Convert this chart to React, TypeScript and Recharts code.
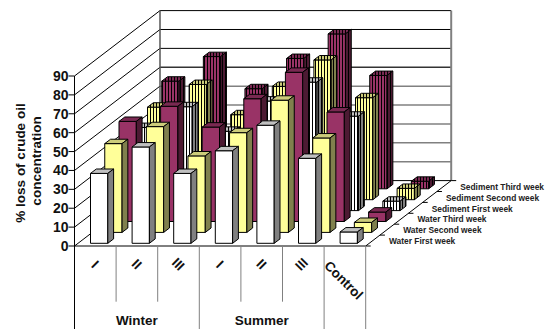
import { BarChart, Bar, XAxis, YAxis, CartesianGrid, Customized } from "recharts";

const categories = ["I", "II", "III", "I", "II", "III", "Control"];
const seasons = ["", "Winter", "", "", "Summer", "", ""];
const yTicks = [0, 10, 20, 30, 40, 50, 60, 70, 80, 90];

// one array per row of bars, front row first
const waterFirst = [37, 51, 37, 49, 62.5, 45, 6];
const waterSecond = [47, 56, 40.5, 52.8, 70, 50, 5.3];
const waterThird = [53, 61, 50, 65, 79, 58, 5];
const sedimentFirst = [44, 55, 42, 58, 68, 50, 5];
const sedimentSecond = [49, 61, 45, 60, 74, 54, 6];
const sedimentThird = [57, 70, 53, 69, 82, 60, 4];

const rowNames = [
  "Water First week",
  "Water Second week",
  "Water Third week",
  "Sediment First week",
  "Sediment Second week",
  "Sediment Third week",
];
const rowValues = [waterFirst, waterSecond, waterThird, sedimentFirst, sedimentSecond, sedimentThird];

const data = categories.map((category, i) => {
  const row: Record<string, string | number> = { key: i, category, season: seasons[i] };
  rowValues.forEach((values, r) => {
    row["r" + r] = values[i];
  });
  return row;
});

const WIDTH = 551;
const HEIGHT = 329;
const LEFT = 74.5;
const RIGHT = 365.7;
const BOTTOM = 246;
const TOP = 76;
const DEPTH_X = 85.5;
const DEPTH_Y = 65.4;
const ROW_X = DEPTH_X / 6;
const ROW_Y = DEPTH_Y / 6;
const BAR_W = 17.3;
const BAR_DX = 5.8;
const BAR_DY = 4.4;
const FONT = "'Liberation Sans', Arial, sans-serif";

const palette = [
  { front: "#ffffff", top: "#c0c0c0", side: "#808080" },
  { front: "#ffff99", top: "#cccc7a", side: "#80804d" },
  { front: "#993366", top: "#7a2952", side: "#4d1a33" },
];

// wall lines: one along the left wall, one along the back wall
const WallLine = (props: any) => {
  const { x1, x2, y1, index } = props;
  const value = 9 - Math.round((y1 - TOP) / ((BOTTOM - TOP) / 9));
  const color = value >= 7 ? "#000" : value === 6 ? "#333" : "#808080";
  const back = y1 - DEPTH_Y;
  return (
    <g key={index}>
      <line x1={x1} y1={y1} x2={x1 + DEPTH_X} y2={back} stroke="#000" strokeWidth={1} />
      {value > 0 && (
        <line
          x1={x1 + DEPTH_X}
          y1={back}
          x2={x2 + DEPTH_X}
          y2={back}
          stroke={color}
          strokeWidth={value >= 7 ? 1 : 1.5}
        />
      )}
    </g>
  );
};

// box with a front, top and side face, pushed back to its row
const makeBox = (row: number) => (props: any) => {
  const { x, y, width, height } = props;
  if (height == null) return null;
  const colors = palette[row % 3];
  const hatched = row >= 3;
  const left = x + 4 + row * ROW_X;
  const up = 2.7 + row * ROW_Y;
  const top = y - up;
  const right = left + width;
  const bottom = y + height - up;
  const frontFill = hatched ? `url(#stripes${row})` : colors.front;
  const topFill = hatched ? `url(#stripes-top${row})` : colors.top;
  const sideFill = hatched ? `url(#stripes-side${row})` : colors.side;
  return (
    <g stroke="#000" strokeWidth={1} strokeLinejoin="round">
      <rect x={left} y={top} width={width} height={bottom - top} fill={frontFill} />
      <path
        d={`M${left} ${top}L${left + BAR_DX} ${top - BAR_DY}L${right + BAR_DX} ${top - BAR_DY}L${right} ${top}Z`}
        fill={topFill}
      />
      <path
        d={`M${right} ${top}L${right + BAR_DX} ${top - BAR_DY}L${right + BAR_DX} ${bottom - BAR_DY}L${right} ${bottom}Z`}
        fill={sideFill}
      />
    </g>
  );
};

const CategoryTick = (props: any) => {
  const { x, y, payload, index } = props;
  const band = (RIGHT - LEFT) / categories.length;
  const edge = x + band / 2;
  const groupEnd = index === 2 || index === 5 || index === 6;
  const reversed = index === 5;
  return (
    <g>
      {index === 0 && <line x1={LEFT} y1={BOTTOM} x2={LEFT} y2={HEIGHT} stroke="#000" />}
      <line x1={edge} y1={BOTTOM} x2={edge} y2={groupEnd ? HEIGHT : 301.7} stroke="#808080" />
      <text
        x={0}
        y={0}
        transform={
          payload.value === "Control"
            ? `translate(${x - 2} ${y + 27}) rotate(45)`
            : `translate(${x - 1} ${y + 11}) rotate(${reversed ? -45 : 45})`
        }
        textAnchor="middle"
        dominantBaseline="middle"
        fontFamily={FONT}
        fontWeight="bold"
        fontSize={13.5}
        fill="#111"
      >
        {payload.value}
      </text>
    </g>
  );
};

const SeasonTick = (props: any) => {
  const { x, y, payload } = props;
  if (!payload.value) return null;
  return (
    <text x={x} y={y + 15} textAnchor="middle" fontFamily={FONT} fontWeight="bold" fontSize={13.5} fill="#111">
      {payload.value}
    </text>
  );
};

const ValueLabel = () => (
  <g fontFamily={FONT} fontWeight="bold" fontSize={13.5} fill="#111" textAnchor="middle">
    <text transform="translate(25 163) rotate(-90)">% loss of crude oil</text>
    <text transform="translate(41 161) rotate(-90)">concentration</text>
  </g>
);

// back corners of the walls and the floor edges
const Frame = () => (
  <g fill="none">
    <line x1={LEFT + DEPTH_X} y1={TOP - DEPTH_Y} x2={LEFT + DEPTH_X} y2={BOTTOM - DEPTH_Y} stroke="#555" strokeWidth={1.5} />
    <line x1={RIGHT + DEPTH_X} y1={TOP - DEPTH_Y} x2={RIGHT + DEPTH_X} y2={BOTTOM - DEPTH_Y} stroke="#808080" strokeWidth={2} />
    <line x1={LEFT + DEPTH_X} y1={BOTTOM - DEPTH_Y} x2={RIGHT + DEPTH_X} y2={BOTTOM - DEPTH_Y} stroke="#000" strokeWidth={1} />
  </g>
);

const DepthAxis = () => (
  <g>
    <line x1={RIGHT} y1={BOTTOM} x2={RIGHT + DEPTH_X} y2={BOTTOM - DEPTH_Y} stroke="#000" />
    {[0, 1, 2, 3, 4, 5, 6].map((k) => (
      <line
        key={k}
        x1={RIGHT + k * ROW_X}
        y1={BOTTOM - k * ROW_Y}
        x2={RIGHT + k * ROW_X + 5}
        y2={BOTTOM - k * ROW_Y}
        stroke="#000"
      />
    ))}
    {rowNames.map((name, k) => (
      <text
        key={name}
        x={389 + k * ROW_X}
        y={244.2 - k * ROW_Y}
        fontFamily={FONT}
        fontWeight="bold"
        fontSize={8.4}
        fill="#222"
      >
        {name}
      </text>
    ))}
  </g>
);

const Stripes = ({ id, bg }: { id: string; bg: string }) => (
  <pattern id={id} width={3} height={3} patternUnits="userSpaceOnUse">
    <rect width={3} height={3} fill={bg} />
    <rect width={1} height={3} fill="#000" />
  </pattern>
);

export default function App() {
  const rows = [5, 4, 3, 2, 1, 0];
  return (
    <div style={{ position: "absolute", left: 0, top: 0, width: WIDTH, height: HEIGHT, background: "#fff" }}>
      <BarChart
        width={WIDTH}
        height={HEIGHT}
        data={data}
        barSize={BAR_W}
        barGap={-BAR_W}
        margin={{ top: TOP, left: LEFT - 30, right: WIDTH - RIGHT, bottom: 0 }}
      >
        <defs>
          {[3, 4, 5].map((r) => (
            <g key={r}>
              <Stripes id={`stripes${r}`} bg={palette[r % 3].front} />
              <Stripes id={`stripes-top${r}`} bg={palette[r % 3].top} />
              <Stripes id={`stripes-side${r}`} bg={palette[r % 3].side} />
            </g>
          ))}
        </defs>
        <CartesianGrid vertical={false} horizontal={WallLine} syncWithTicks />
        <Customized component={Frame} />
        <XAxis
          dataKey="key"
          xAxisId={0}
          height={56}
          interval={0}
          axisLine={{ stroke: "#000" }}
          tickLine={false}
          tick={(p: any) => <CategoryTick {...p} payload={{ value: categories[p.index] }} />}
        />
        <XAxis
          dataKey="key"
          xAxisId={1}
          height={27}
          interval={0}
          axisLine={false}
          tickLine={false}
          tick={(p: any) => <SeasonTick {...p} payload={{ value: seasons[p.index] }} />}
        />
        <YAxis
          width={30}
          domain={[0, 90]}
          ticks={yTicks}
          interval={0}
          axisLine={{ stroke: "#000" }}
          tickLine={{ stroke: "#000" }}
          tickSize={6}
          tickMargin={0}
          tick={{ fontFamily: FONT, fontWeight: "bold", fontSize: 14, fill: "#111" }}
        />
        {rows.map((r) => (
          <Bar key={r} dataKey={"r" + r} xAxisId={0} isAnimationActive={false} shape={makeBox(r)} />
        ))}
        <Customized component={DepthAxis} />
        <Customized component={ValueLabel} />
      </BarChart>
    </div>
  );
}
